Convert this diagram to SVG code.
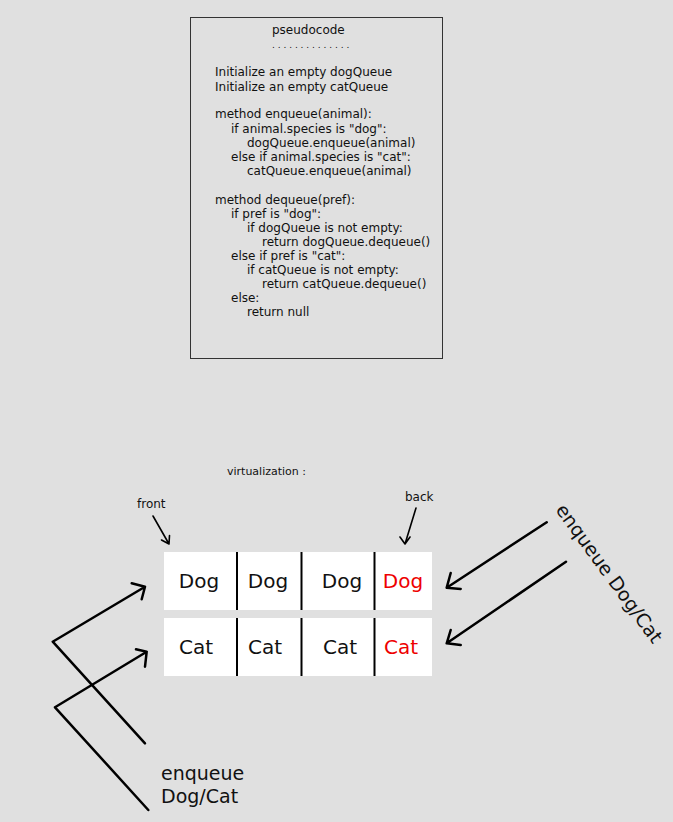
<svg xmlns="http://www.w3.org/2000/svg" width="673" height="822" viewBox="0 0 673 822">
<style>
.t{font-family:"DejaVu Sans","Liberation Sans",sans-serif;fill:#111;}
.code{font-size:12px;}
.cell{font-size:20px;text-anchor:middle;dominant-baseline:central;}
.red{fill:#ee0000;}
.ln{fill:none;stroke:#000;stroke-width:2.5;stroke-linecap:round;stroke-linejoin:round;}
.thin{fill:none;stroke:#000;stroke-width:1.6;stroke-linecap:round;stroke-linejoin:round;}
.div{stroke:#000;stroke-width:2;}
</style>
<rect width="673" height="822" fill="#e0e0e0"/>
<g id="pseudocode">
<rect x="190.5" y="17.5" width="252" height="341" fill="#e0e0e0" stroke="#333" stroke-width="1"/>
<text class="t code" x="272" y="34">pseudocode</text>
<text class="t code" x="272" y="48" style="font-size:9px">. . . . . . . . . . . . . .</text>
<text class="t code" x="215" y="76">Initialize an empty dogQueue</text>
<text class="t code" x="215" y="91">Initialize an empty catQueue</text>
<text class="t code" x="215" y="118">method enqueue(animal):</text>
<text class="t code" x="231" y="133">if animal.species is "dog":</text>
<text class="t code" x="247" y="147">dogQueue.enqueue(animal)</text>
<text class="t code" x="231" y="161">else if animal.species is "cat":</text>
<text class="t code" x="247" y="175">catQueue.enqueue(animal)</text>
<text class="t code" x="215" y="204">method dequeue(pref):</text>
<text class="t code" x="231" y="218">if pref is "dog":</text>
<text class="t code" x="247" y="232">if dogQueue is not empty:</text>
<text class="t code" x="262" y="246">return dogQueue.dequeue()</text>
<text class="t code" x="231" y="260">else if pref is "cat":</text>
<text class="t code" x="247" y="274">if catQueue is not empty:</text>
<text class="t code" x="262" y="288">return catQueue.dequeue()</text>
<text class="t code" x="231" y="302">else:</text>
<text class="t code" x="247" y="316">return null</text>
</g>
<g id="labels">
<text class="t" x="227" y="475" style="font-size:11px">virtualization :</text>
<text class="t" x="137" y="508" style="font-size:12px">front</text>
<text class="t" x="405" y="501" style="font-size:12px">back</text>
</g>
<g id="dogQueue">
<rect x="164" y="552" width="268" height="58" fill="#fff"/>
<line class="div" x1="237" y1="552" x2="237" y2="610"/>
<line class="div" x1="301.5" y1="552" x2="301.5" y2="610"/>
<line class="div" x1="374.5" y1="552" x2="374.5" y2="610"/>
<text class="t cell" x="199" y="581">Dog</text>
<text class="t cell" x="268" y="581">Dog</text>
<text class="t cell" x="342" y="581">Dog</text>
<text class="t cell red" x="403" y="581">Dog</text>
</g>
<g id="catQueue">
<rect x="164" y="618" width="268" height="58" fill="#fff"/>
<line class="div" x1="237" y1="618" x2="237" y2="676"/>
<line class="div" x1="301.5" y1="618" x2="301.5" y2="676"/>
<line class="div" x1="374.5" y1="618" x2="374.5" y2="676"/>
<text class="t cell" x="196" y="647">Cat</text>
<text class="t cell" x="265" y="647">Cat</text>
<text class="t cell" x="340" y="647">Cat</text>
<text class="t cell red" x="401" y="647">Cat</text>
</g>
<g id="enqueueRight">
<text class="t" transform="translate(555,510) rotate(54)" style="font-size:19px">enqueue Dog/Cat</text>
</g>
<g id="enqueueLeft">
<text class="t" x="161" y="780" style="font-size:19px">enqueue</text>
<text class="t" x="161" y="803" style="font-size:19px">Dog/Cat</text>
</g>
<g id="connectors">
<path class="thin" d="M153 516 L169 544 M161.5 540 L169 544 L169.5 535.5"/>
<path class="thin" d="M416 508 L405 544 M400 537 L405 544 L410 537"/>
<path class="ln" d="M546.7 522.3 L446.7 587.7 M450.7 573 L446.7 587.7 L460.7 589"/>
<path class="ln" d="M566 561.7 L446.7 643.3 M450.7 630 L446.7 643.3 L460.7 645"/>
<path class="ln" d="M145 743.3 L52.7 641.7 L145 586.7 M131.7 583.3 L145 586.7 L141.7 599.3"/>
<path class="ln" d="M148.3 810 L55 707.3 L146.7 651.7 M136 649.3 L146.7 651.7 L145 666.7"/>
</g>
</svg>
